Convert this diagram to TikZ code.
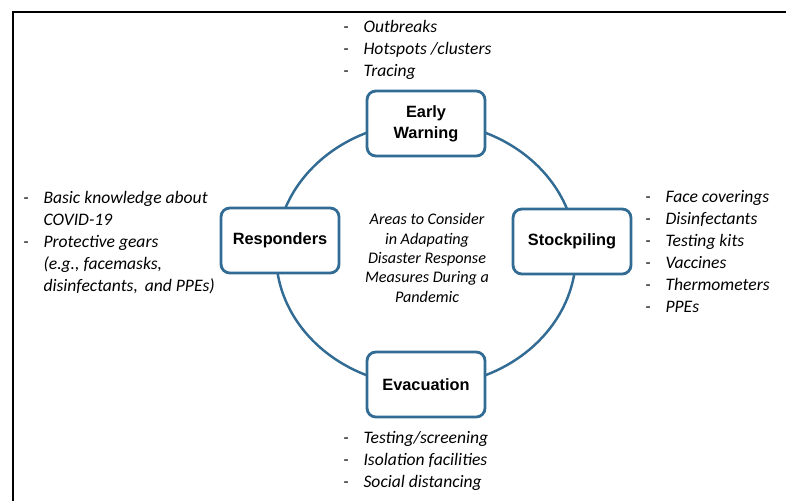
\documentclass[tikz,border=0pt]{standalone}
\usepackage{fontspec}
\setmainfont{Carlito}
\newfontfamily\headfont{Liberation Sans}
\usepackage{tikz}
\usetikzlibrary{positioning}
\definecolor{c_ring}{RGB}{50,108,148}
\tikzset{c-area/.style={rectangle, rounded corners=5pt, minimum width=2.36cm, minimum height=1.3cm, text centered, align=center, line width=1.6pt, draw=c_ring, fill=white, font=\headfont\bfseries\fontsize{9.3}{12}\selectfont},
c-list/.style={anchor=west, inner sep=0pt, font=\itshape\fontsize{10}{12.5}\selectfont},
ring/.style={line width=1.4pt, draw=c_ring}}
\newcommand{\itemlist}[1]{\begin{tabular}{@{}p{11.5pt}@{}l@{}}#1\end{tabular}}

\begin{document}
\begin{tikzpicture}[x=0.02cm, y=-0.02cm]
\useasboundingbox (0,0) rectangle (786,500);
\draw [line width=1.2pt] (13,502) -- (13,12) -- (788,12);
\coordinate (hub) at (426,254);
\draw [ring] (hub) ellipse [x radius=3cm, y radius=2.64cm];
\node (early) [c-area] at (426,123.5) {Early\\Warning};
\node (resp) [c-area] at (280,240.5) {Responders};
\node (stock) [c-area] at (572,241.5) {Stockpiling};
\node (evac) [c-area] at (426,384.5) {Evacuation};
\node (topic) [align=center, font=\itshape\fontsize{9.2}{11}\selectfont] at (427,258) {Areas to Consider\\
in Adapating\\
Disaster Response\\
Measures During a\\
Pandemic
};
\node (early-l) [c-list] at (343,50) {\itemlist{- & Outbreaks\\
- & Hotspots /clusters\\
- & Tracing}};
\node (resp-l) [c-list] at (23,243) {\itemlist{- & Basic knowledge about\\
 & COVID-19\\
- & Protective gears\\
 & (e.g., facemasks,\\
 & disinfectants,\, and PPEs)}};
\node (stock-l) [c-list] at (645,253) {\itemlist{- & Face coverings\\
- & Disinfectants\\
- & Testing kits\\
- & Vaccines\\
- & Thermometers\\
- & PPEs}};
\node (evac-l) [c-list] at (343,461) {\itemlist{- & Testing/screening\\
- & Isolation facilities\\
- & Social distancing}};
\end{tikzpicture}
\end{document}
